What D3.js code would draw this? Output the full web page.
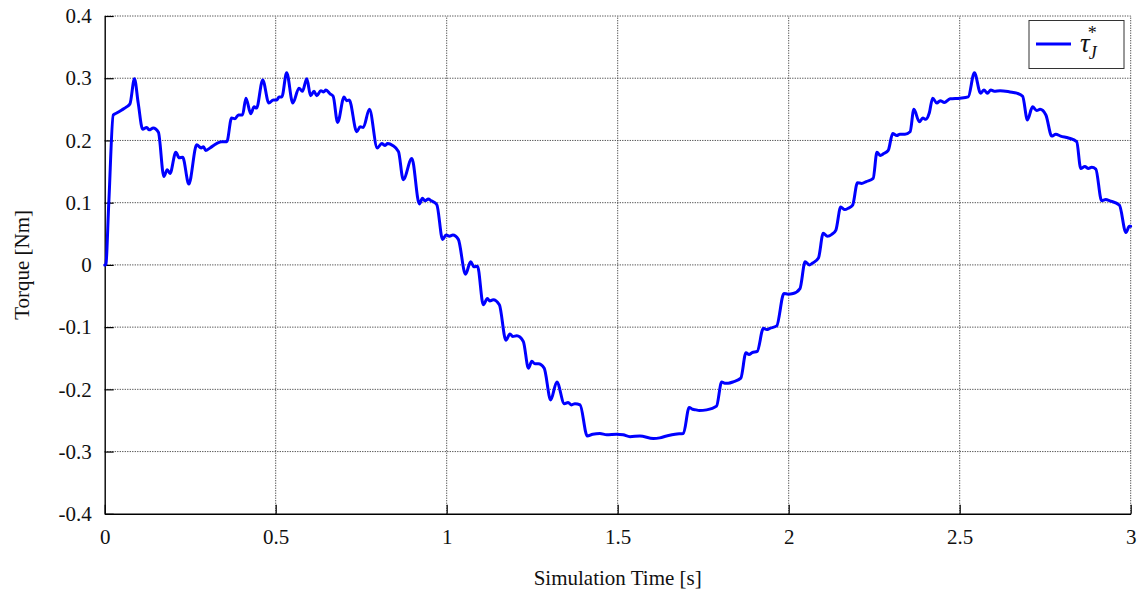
<!DOCTYPE html>
<html>
<head>
<meta charset="utf-8">
<script src="https://cdn.jsdelivr.net/npm/d3@7"></script>
</head>
<body style="margin:0;background:#fff">
<svg id="torque-plot" width="1141" height="596"></svg>
<script>
// Joint torque reference over the simulation run
const timeS = [
  0.000, 0.003, 0.012, 0.025, 0.035, 0.050, 0.064, 0.074, 0.087, 0.098,
  0.111, 0.123, 0.130, 0.142, 0.157, 0.173, 0.183, 0.191, 0.208, 0.218,
  0.228, 0.246, 0.269, 0.282, 0.289, 0.295, 0.308, 0.327, 0.342, 0.357,
  0.371, 0.381, 0.391, 0.403, 0.413, 0.427, 0.437, 0.444, 0.462, 0.480,
  0.493, 0.503, 0.510, 0.518, 0.532, 0.550, 0.568, 0.578, 0.591, 0.602,
  0.612, 0.620, 0.632, 0.640, 0.647, 0.659, 0.668, 0.681, 0.700, 0.707,
  0.715, 0.737, 0.747, 0.756, 0.774, 0.797, 0.810, 0.820, 0.827, 0.842,
  0.859, 0.873, 0.898, 0.920, 0.929, 0.937, 0.946, 0.955, 0.971, 0.988,
  0.998, 1.008, 1.018, 1.034, 1.055, 1.070, 1.080, 1.090, 1.107, 1.119,
  1.126, 1.136, 1.154, 1.173, 1.185, 1.193, 1.205, 1.224, 1.239, 1.249,
  1.258, 1.268, 1.285, 1.304, 1.322, 1.344, 1.355, 1.365, 1.375, 1.390,
  1.411, 1.427, 1.448, 1.468, 1.497, 1.516, 1.536, 1.565, 1.604, 1.623,
  1.643, 1.668, 1.692, 1.709, 1.719, 1.729, 1.738, 1.760, 1.789, 1.804,
  1.813, 1.823, 1.838, 1.860, 1.875, 1.884, 1.893, 1.908, 1.926, 1.936,
  1.945, 1.965, 1.986, 1.998, 2.013, 2.033, 2.048, 2.060, 2.070, 2.087,
  2.101, 2.113, 2.126, 2.138, 2.152, 2.164, 2.174, 2.187, 2.201, 2.213,
  2.227, 2.247, 2.258, 2.268, 2.278, 2.291, 2.304, 2.316, 2.325, 2.340,
  2.355, 2.366, 2.382, 2.392, 2.401, 2.411, 2.421, 2.433, 2.443, 2.455,
  2.472, 2.501, 2.525, 2.543, 2.561, 2.571, 2.581, 2.591, 2.601, 2.618,
  2.647, 2.667, 2.684, 2.698, 2.713, 2.725, 2.735, 2.752, 2.769, 2.781,
  2.795, 2.818, 2.842, 2.854, 2.866, 2.876, 2.886, 2.898, 2.915, 2.927,
  2.939, 2.967, 2.986, 2.996, 3.000
];
const torqueNm = [
  0.000, 0.000, 0.100, 0.241, 0.244, 0.249, 0.254, 0.259, 0.299, 0.260,
  0.218, 0.221, 0.217, 0.220, 0.213, 0.142, 0.153, 0.147, 0.181, 0.172,
  0.173, 0.130, 0.193, 0.188, 0.190, 0.184, 0.188, 0.195, 0.198, 0.198,
  0.236, 0.235, 0.241, 0.241, 0.268, 0.243, 0.254, 0.252, 0.297, 0.260,
  0.265, 0.265, 0.270, 0.270, 0.309, 0.260, 0.284, 0.279, 0.299, 0.272,
  0.279, 0.272, 0.280, 0.278, 0.281, 0.275, 0.271, 0.229, 0.270, 0.264,
  0.265, 0.214, 0.222, 0.221, 0.250, 0.188, 0.195, 0.192, 0.195, 0.192,
  0.182, 0.137, 0.171, 0.098, 0.107, 0.103, 0.106, 0.103, 0.097, 0.041,
  0.048, 0.046, 0.048, 0.041, -0.015, 0.005, -0.003, -0.002, -0.064, -0.054,
  -0.058, -0.056, -0.064, -0.121, -0.111, -0.115, -0.114, -0.123, -0.166, -0.155,
  -0.159, -0.159, -0.166, -0.217, -0.188, -0.223, -0.221, -0.225, -0.223, -0.225,
  -0.275, -0.272, -0.271, -0.273, -0.272, -0.273, -0.276, -0.275, -0.279, -0.278,
  -0.275, -0.272, -0.271, -0.229, -0.232, -0.233, -0.234, -0.233, -0.227, -0.188,
  -0.190, -0.190, -0.188, -0.182, -0.141, -0.144, -0.141, -0.139, -0.102, -0.104,
  -0.102, -0.098, -0.046, -0.047, -0.046, -0.038, 0.005, 0.000, 0.003, 0.011,
  0.051, 0.046, 0.049, 0.056, 0.093, 0.089, 0.091, 0.096, 0.132, 0.131,
  0.134, 0.139, 0.181, 0.176, 0.179, 0.184, 0.211, 0.208, 0.210, 0.210,
  0.214, 0.250, 0.230, 0.236, 0.234, 0.244, 0.268, 0.260, 0.264, 0.261,
  0.267, 0.268, 0.270, 0.309, 0.276, 0.281, 0.276, 0.281, 0.279, 0.280,
  0.278, 0.276, 0.271, 0.233, 0.254, 0.248, 0.250, 0.241, 0.207, 0.210,
  0.207, 0.204, 0.198, 0.155, 0.158, 0.155, 0.157, 0.154, 0.103, 0.105,
  0.103, 0.096, 0.052, 0.062, 0.062
];
const xTicks = [0, 0.5, 1, 1.5, 2, 2.5, 3];
const yTicks = [-0.4, -0.3, -0.2, -0.1, 0, 0.1, 0.2, 0.3, 0.4];
const xTickLabels = ["0", "0.5", "1", "1.5", "2", "2.5", "3"];
const yTickLabels = ["-0.4", "-0.3", "-0.2", "-0.1", "0", "0.1", "0.2", "0.3", "0.4"];
const xTitle = "Simulation Time [s]";
const yTitle = "Torque [Nm]";

const SERIF = "Liberation Serif";
const FS = 21;
const W = 1141, H = 596;
const margin = { left: 104.7, right: 10.3, top: 16, bottom: 82.2 };
const svg = d3.select("#torque-plot");

const x = d3.scaleLinear().domain([0, 3]).range([margin.left, W - margin.right]);
const y = d3.scaleLinear().domain([-0.4, 0.4]).range([H - margin.bottom, margin.top]);

// dotted grid, including the top and right edges of the frame
const grid = svg.append("g")
  .attr("stroke", "#444").attr("stroke-width", 1).attr("stroke-dasharray", "1.2,1.3");
grid.selectAll(".gx").data(xTicks.filter(d => d > 0)).join("line")
  .attr("x1", d => x(d)).attr("x2", d => x(d))
  .attr("y1", y(-0.4)).attr("y2", y(0.4));
grid.selectAll(".gy").data(yTicks.filter(d => d > -0.4)).join("line")
  .attr("y1", d => y(d)).attr("y2", d => y(d))
  .attr("x1", x(0)).attr("x2", x(3));

// solid left and bottom axes with inward ticks
const xAxis = d3.axisBottom(x).tickValues(xTicks).tickSizeInner(-9).tickSizeOuter(0)
  .tickPadding(15).tickFormat((d, i) => xTickLabels[i]);
const yAxis = d3.axisLeft(y).tickValues(yTicks).tickSizeInner(-9).tickSizeOuter(0)
  .tickPadding(13).tickFormat((d, i) => yTickLabels[i]);

const gx = svg.append("g").attr("transform", `translate(0,${y(-0.4)})`).call(xAxis);
const gy = svg.append("g").attr("transform", `translate(${x(0)},0)`).call(yAxis);
[gx, gy].forEach(g => {
  g.attr("font-family", SERIF).attr("font-size", FS);
  g.select(".domain").attr("stroke", "#000").attr("stroke-width", 1.4);
  g.selectAll(".tick line").attr("stroke", "#000").attr("stroke-width", 1.2);
  g.selectAll(".tick text").attr("fill", "#111");
});

// torque trace
const pts = timeS.map((t, i) => [t, torqueNm[i]]);
const line = d3.line().x(d => x(d[0])).y(d => y(d[1])).curve(d3.curveMonotoneX);
svg.append("path").datum(pts)
  .attr("d", line)
  .attr("fill", "none")
  .attr("stroke", "#0000ff")
  .attr("stroke-width", 3)
  .attr("stroke-linejoin", "round")
  .attr("stroke-linecap", "round");

// axis titles
svg.append("text")
  .attr("x", (x(0) + x(3)) / 2).attr("y", 585)
  .attr("text-anchor", "middle")
  .attr("font-family", SERIF).attr("font-size", FS).attr("fill", "#111")
  .text(xTitle);
svg.append("text")
  .attr("transform", `translate(29,${y(0)}) rotate(-90)`)
  .attr("text-anchor", "middle")
  .attr("font-family", SERIF).attr("font-size", FS).attr("fill", "#111")
  .text(yTitle);

// legend
const lg = svg.append("g");
lg.append("rect")
  .attr("x", 1029).attr("y", 20.5).attr("width", 95).attr("height", 48)
  .attr("fill", "#fff").attr("stroke", "#333").attr("stroke-width", 1);
lg.append("line")
  .attr("x1", 1036).attr("x2", 1071).attr("y1", 44).attr("y2", 44)
  .attr("stroke", "#0000ff").attr("stroke-width", 3);
const lt = lg.append("text").attr("x", 1080).attr("y", 52)
  .attr("font-family", SERIF).attr("font-size", 27).attr("fill", "#111");
lt.append("tspan").attr("font-style", "italic").text("τ");
lt.append("tspan").attr("font-style", "italic").attr("font-size", 18)
  .attr("dx", -1).attr("dy", 7).text("J");
lt.append("tspan").attr("font-size", 18).attr("dx", -9).attr("dy", -20).text("*");
</script>
</body>
</html>
